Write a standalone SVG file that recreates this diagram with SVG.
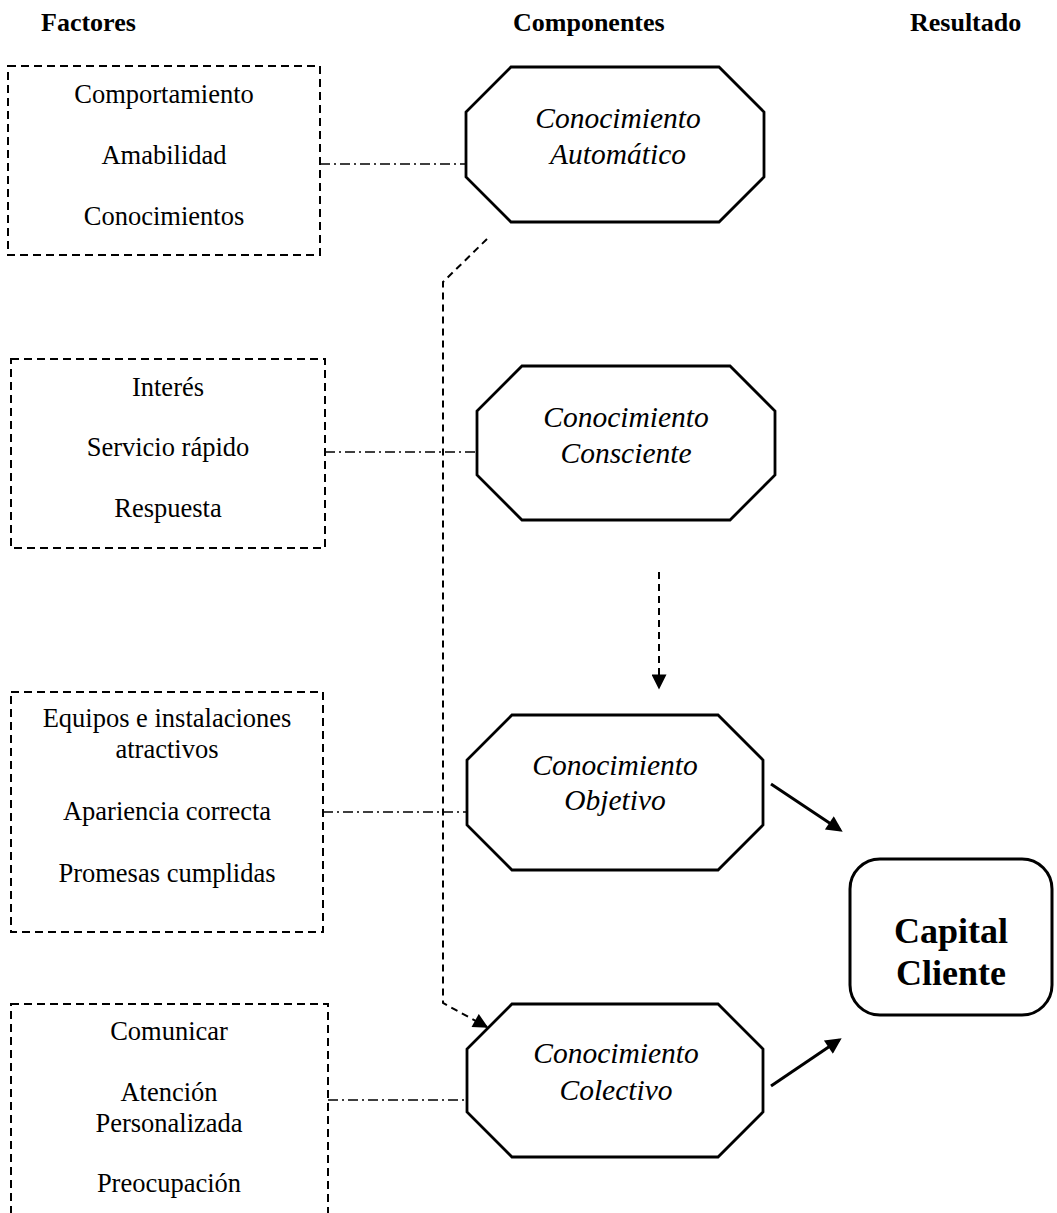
<svg xmlns="http://www.w3.org/2000/svg" width="1057" height="1213" viewBox="0 0 1057 1213">
<style>
.hdr{font-family:"Liberation Serif","Times New Roman",serif;font-size:26px;font-weight:bold;fill:#000}
.fac{font-family:"Liberation Serif","Times New Roman",serif;font-size:26.5px;fill:#000;text-anchor:middle}
.comp{font-family:"Liberation Serif","Times New Roman",serif;font-size:29.5px;font-style:italic;fill:#000;text-anchor:middle}
.res{font-family:"Liberation Serif","Times New Roman",serif;font-size:36px;font-weight:bold;fill:#000;text-anchor:middle}
.dbox{fill:none;stroke:#000;stroke-width:2;stroke-dasharray:8 5}
.oct{fill:#fff;stroke:#000;stroke-width:2.8;stroke-linejoin:miter}
.dd{fill:none;stroke:#000;stroke-width:1.6;stroke-dasharray:10 4 2 4}
.dash{fill:none;stroke:#000;stroke-width:2;stroke-dasharray:7 5}
.solid{fill:none;stroke:#000;stroke-width:3}
</style>
<defs>
<marker id="ah" viewBox="0 0 10 10" refX="8" refY="5" markerWidth="19" markerHeight="16" markerUnits="userSpaceOnUse" orient="auto"><path d="M0,0 L10,5 L0,10 z" fill="#000"/></marker>
<marker id="ahs" viewBox="0 0 10 10" refX="9" refY="5" markerWidth="16" markerHeight="15" markerUnits="userSpaceOnUse" orient="auto"><path d="M0,0 L10,5 L0,10 z" fill="#000"/></marker>
</defs>
<rect width="1057" height="1213" fill="#fff"/>
<g id="headers">
<text class="hdr" x="41" y="31">Factores</text>
<text class="hdr" x="513" y="31">Componentes</text>
<text class="hdr" x="910" y="31">Resultado</text>
</g>
<g id="connectors">
<line class="dd" x1="320" y1="164" x2="466" y2="164"/>
<line class="dd" x1="325" y1="452" x2="477" y2="452"/>
<line class="dd" x1="323" y1="812" x2="467" y2="812"/>
<line class="dd" x1="328" y1="1100" x2="467" y2="1100"/>
<path class="dash" d="M487,239 L443,282 L443,1003 L487,1027" marker-end="url(#ahs)"/>
<path class="dash" d="M659,572 L659,688" marker-end="url(#ahs)"/>
<path class="solid" d="M771,784 L840,830" marker-end="url(#ah)"/>
<path class="solid" d="M771,1086 L839,1040" marker-end="url(#ah)"/>
</g>
<g id="factores-1">
<rect class="dbox" x="8" y="66" width="312" height="189"/>
<text class="fac" x="164" y="103">Comportamiento</text>
<text class="fac" x="164" y="164">Amabilidad</text>
<text class="fac" x="164" y="225">Conocimientos</text>
</g>
<g id="factores-2">
<rect class="dbox" x="11" y="359" width="314" height="189"/>
<text class="fac" x="168" y="396">Interés</text>
<text class="fac" x="168" y="456">Servicio rápido</text>
<text class="fac" x="168" y="517">Respuesta</text>
</g>
<g id="factores-3">
<rect class="dbox" x="11" y="692" width="312" height="240"/>
<text class="fac" x="167" y="727">Equipos e instalaciones</text>
<text class="fac" x="167" y="758">atractivos</text>
<text class="fac" x="167" y="820">Apariencia correcta</text>
<text class="fac" x="167" y="882">Promesas cumplidas</text>
</g>
<g id="factores-4">
<rect class="dbox" x="11" y="1004" width="317" height="230"/>
<text class="fac" x="169" y="1040">Comunicar</text>
<text class="fac" x="169" y="1101">Atención</text>
<text class="fac" x="169" y="1132">Personalizada</text>
<text class="fac" x="169" y="1192">Preocupación</text>
</g>
<g id="conocimiento-automatico">
<polygon class="oct" points="511,67 719,67 764,112 764,177 719,222 511,222 466,177 466,112"/>
<text class="comp" x="618" y="128">Conocimiento</text>
<text class="comp" x="618" y="164">Automático</text>
</g>
<g id="conocimiento-consciente">
<polygon class="oct" points="522,366 730,366 775,411 775,475 730,520 522,520 477,475 477,411"/>
<text class="comp" x="626" y="427">Conocimiento</text>
<text class="comp" x="626" y="463">Consciente</text>
</g>
<g id="conocimiento-objetivo">
<polygon class="oct" points="512,715 718,715 763,760 763,825 718,870 512,870 467,825 467,760"/>
<text class="comp" x="615" y="775">Conocimiento</text>
<text class="comp" x="615" y="810">Objetivo</text>
</g>
<g id="conocimiento-colectivo">
<polygon class="oct" points="512,1004 718,1004 763,1049 763,1112 718,1157 512,1157 467,1112 467,1049"/>
<text class="comp" x="616" y="1063">Conocimiento</text>
<text class="comp" x="616" y="1100">Colectivo</text>
</g>
<g id="capital-cliente">
<rect x="850" y="859" width="202" height="156" rx="30" ry="30" fill="#fff" stroke="#000" stroke-width="3"/>
<text class="res" x="951" y="943">Capital</text>
<text class="res" x="951" y="985">Cliente</text>
</g>
</svg>
